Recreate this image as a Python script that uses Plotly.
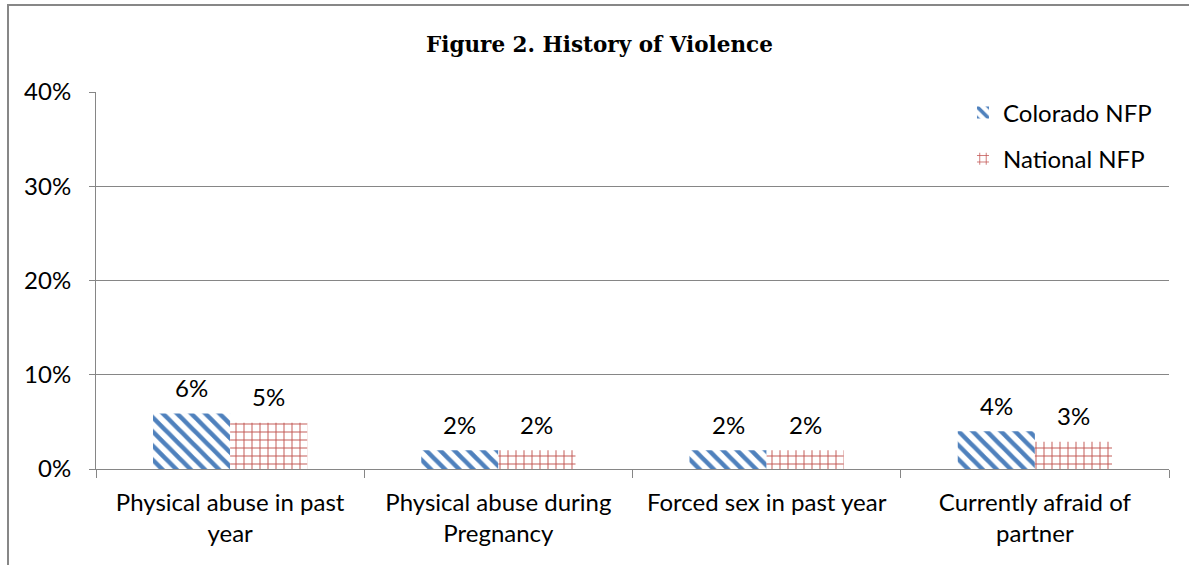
import plotly.graph_objects as go

categories = ["Physical abuse in past<br>year", "Physical abuse during<br>Pregnancy",
              "Forced sex in past year", "Currently afraid of<br>partner"]
colorado = [0.059, 0.02, 0.02, 0.04]
national = [0.049, 0.02, 0.02, 0.029]
series_names = ["Colorado NFP", "National NFP"]
y_ticks = [0, 0.1, 0.2, 0.3, 0.4]
y_tick_labels = ["0%", "10%", "20%", "30%", "40%"]

BLUE = "#4F81BD"
RED = "#C0504D"
FONT = "Lato"
FS = 24

fig = go.Figure()
fig.add_trace(go.Bar(
    x=categories, y=colorado, name=series_names[0], legendgroup="a",
    marker=dict(color="white", line=dict(width=0),
                pattern=dict(shape="\\", fgcolor=BLUE, bgcolor="white", size=10,
                             solidity=0.45, fgopacity=1)),
    offsetgroup="a",
))
fig.add_trace(go.Bar(
    x=categories, y=national, name=series_names[1], legendgroup="b",
    marker=dict(color="white", line=dict(width=0),
                pattern=dict(shape="+", fgcolor=RED, bgcolor="white", size=8,
                             solidity=0.22, fgopacity=1)),
    offsetgroup="b",
))

annotations = []
for vals, shift in ((colorado, -38.5), (national, 38.5)):
    for c, v in zip(categories, vals):
        annotations.append(dict(
            x=c, y=v, xref="x", yref="y", text=f"{round(v*100):.0f}%",
            showarrow=False, xshift=shift, yshift=26, yanchor="middle",
            font=dict(family=FONT, size=FS, color="black"),
        ))
annotations.append(dict(
    x=0.4697, y=1.125, xref="paper", yref="paper", text="<b>Figure 2. History of Violence</b>",
    showarrow=False, yanchor="middle", xanchor="center",
    font=dict(family="DejaVu Serif", size=21.5, color="black"),
))
fig.update_layout(annotations=annotations)

fig.update_layout(
    width=1189, height=565,
    margin=dict(l=96, r=20, t=92, b=96),
    paper_bgcolor="white", plot_bgcolor="white",
    barmode="group", bargap=0.425, bargroupgap=0,
    font=dict(family=FONT, size=FS, color="black"),
    showlegend=True,
    legend=dict(x=0.808, y=1.004, xanchor="left", yanchor="top",
                bgcolor="rgba(0,0,0,0)", font=dict(family=FONT, size=FS),
                traceorder="grouped", tracegroupgap=12, itemwidth=30),
    xaxis=dict(showline=True, linecolor="#868686", linewidth=1,
               ticks="outside", tickson="boundaries", ticklen=8, tickcolor="#868686",
               ticklabelstandoff=12,
               tickfont=dict(family=FONT, size=FS, color="black"), showgrid=False),
    yaxis=dict(range=[0, 0.4], tickvals=y_ticks, ticktext=y_tick_labels,
               showline=True, linecolor="#868686", linewidth=1,
               ticks="outside", ticklen=6, tickcolor="#868686",
               ticklabelstandoff=13,
               gridcolor="#868686", gridwidth=1, zeroline=False,
               tickfont=dict(family=FONT, size=FS, color="black")),
    shapes=[dict(type="rect", xref="paper", yref="paper",
                 x0=-0.082, x1=1.2, y0=-0.5, y1=1.2308,
                 line=dict(color="#878787", width=2), fillcolor="rgba(0,0,0,0)", layer="below")],
)

fig.write_html("out.html")
